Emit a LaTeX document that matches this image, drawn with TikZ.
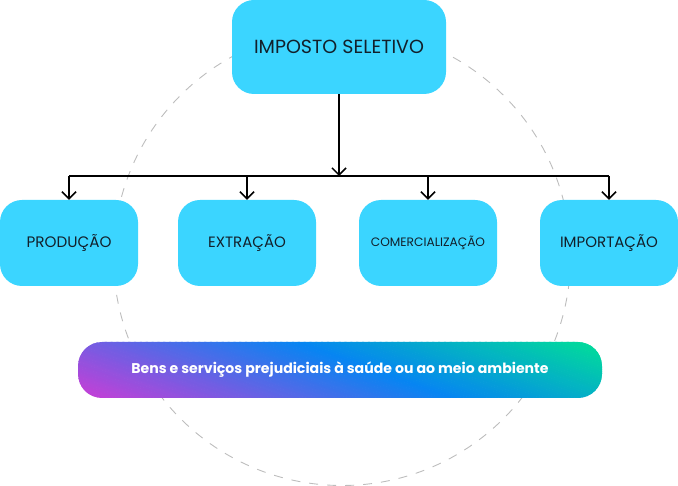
\documentclass[tikz,border=0pt]{standalone}
\usepackage{fontspec}
\setmainfont{Poppins}
\usetikzlibrary{arrows.meta}
\definecolor{boxc}{HTML}{3BD5FF}
\definecolor{txtc}{HTML}{12202B}
\definecolor{cmag}{HTML}{C83ED6}
\definecolor{cblue}{HTML}{0685F2}
\definecolor{cgreen}{HTML}{00E68F}
\definecolor{circc}{HTML}{BDBDBD}
\begin{document}
\begin{tikzpicture}[x=1pt,y=-1pt,
  box/.style={draw=none, fill=boxc, rounded corners=22pt, inner sep=0pt, text=txtc, align=center},
  lowbox/.style={box, minimum width=138pt, minimum height=86pt},
  conn/.style={line width=1.5pt, black},
  tip/.style={-{Straight Barb[length=7pt,width=14pt]}}
]
\useasboundingbox (0,0) rectangle (678,486);
% dashed circle
\draw[circc, line width=0.9pt, dash pattern=on 9pt off 9pt] (342,257) circle[radius=228.5pt];
% boxes
\node[box, minimum width=214pt, minimum height=94pt, font=\fontsize{19}{22}\selectfont] (top) at (339,47) {IMPOSTO SELETIVO};
\node[lowbox, font=\fontsize{15.2}{18}\selectfont] (prod) at (69,243) {PRODUÇÃO};
\node[lowbox, font=\fontsize{15}{18}\selectfont] (ext) at (247,243) {EXTRAÇÃO};
\node[lowbox, font=\fontsize{12.2}{15}\selectfont] (com) at (428,243) {COMERCIALIZAÇÃO};
\node[lowbox, font=\fontsize{15}{18}\selectfont] (imp) at (609,243) {IMPORTAÇÃO};
% gradient bar
\begin{scope}
\clip[rounded corners=24pt] (78,342) rectangle (602,398);
\begin{scope}[shift={(78,398)}, rotate=70]
\fill[cmag] (-800pt,-900pt) rectangle (0.3pt,900pt);
\fill[cgreen] (239.7pt,-900pt) rectangle (900pt,900pt);
\foreach \i in {0,...,119}{
  \pgfmathsetmacro{\p}{\i/119*100}
  \ifdim \p pt < 53pt
    \pgfmathtruncatemacro{\q}{\p/53*100}
    \colorlet{sc}{cblue!\q!cmag}
  \else
    \pgfmathtruncatemacro{\q}{(\p-53)/47*100}
    \colorlet{sc}{cgreen!\q!cblue}
  \fi
  \fill[sc] (\i*2pt, -900pt) rectangle (\i*2pt+2.5pt, 900pt);
}
\end{scope}
\end{scope}
\node[minimum width=524pt, minimum height=56pt, inner sep=0pt, text=white, font=\fontsize{14.1}{17}\selectfont\bfseries] (bar) at (340,370) {Bens e serviços prejudiciais à saúde ou ao meio ambiente};
% connectors
\coordinate (j) at (339,176);
\coordinate (jl) at (prod.north |- j);
\coordinate (jr) at (imp.north |- j);
\draw[conn, tip] (top.south) -- (j);
\draw[conn] (jl) -- (jr);
\foreach \n in {prod,ext,com,imp}{
  \draw[conn, tip] (\n.north |- j) -- (\n.north);
}
\end{tikzpicture}
\end{document}
